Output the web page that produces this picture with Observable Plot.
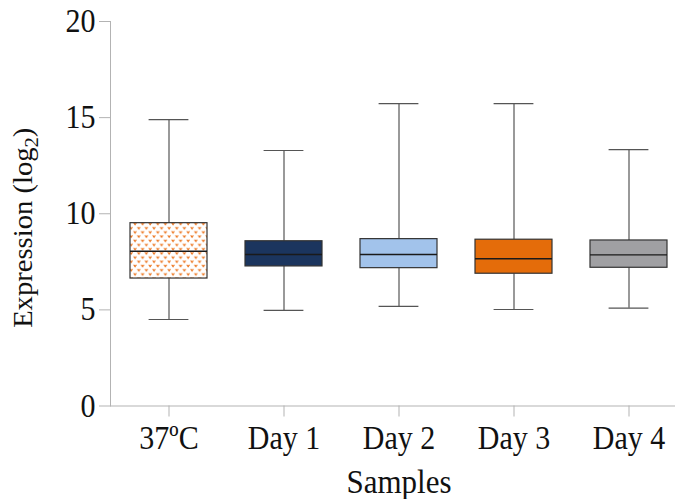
<!DOCTYPE html>
<html>
<head>
<meta charset="utf-8">
<script src="https://cdn.jsdelivr.net/npm/d3@7"></script>
<script src="https://cdn.jsdelivr.net/npm/@observablehq/plot@0.6"></script>
<style>
  html, body { margin: 0; padding: 0; background: #fff; }
</style>
</head>
<body>
<div id="chart"></div>
<script>
// Box-plot summaries of log2 expression per sample
const categories   = ["37ºC", "Day 1", "Day 2", "Day 3", "Day 4"];
const lowerWhisker = [4.50, 4.97, 5.18, 5.02, 5.09];
const quartile1    = [6.63, 7.26, 7.17, 6.88, 7.19];
const medians      = [8.05, 7.88, 7.88, 7.66, 7.86];
const quartile3    = [9.51, 8.57, 8.68, 8.65, 8.61];
const upperWhisker = [14.90, 13.29, 15.73, 15.73, 13.34];
const boxFills     = ["url(#divot)", "#1b355e", "#a2c3eb", "#e46c0a", "#a0a0a3"];
const yTicks       = [0, 5, 10, 15, 20];
const xTitle       = "Samples";
const yTitle       = "Expression (log2)";

const rows = categories.map((sample, i) => ({
  sample,
  lo: lowerWhisker[i],
  q1: quartile1[i],
  med: medians[i],
  q3: quartile3[i],
  hi: upperWhisker[i],
  fill: boxFills[i]
}));

// Orange "divot" pattern used for the 37ºC box
function divotDefs() {
  const defs = d3.create("svg:defs");
  const p = defs.append("pattern")
    .attr("id", "divot")
    .attr("patternUnits", "userSpaceOnUse")
    .attr("width", 7.6)
    .attr("height", 8.4);
  p.append("rect").attr("width", 7.6).attr("height", 8.4).attr("fill", "#fff");
  const chevron = "M0,0h1.5l0.4,0.9l0.4,-0.9h1.5l-1.9,2.9z";
  p.append("path").attr("d", chevron).attr("transform", "translate(0.1,0.2)").attr("fill", "#ec6f14");
  p.append("path").attr("d", chevron).attr("transform", "translate(3.9,4.4)").attr("fill", "#ec6f14");
  return defs.node();
}

const axisGrey = "#b3b3b3";
const whiskerGrey = "#555";

const chart = Plot.plot({
  width: 675,
  height: 499,
  marginLeft: 110,
  marginRight: 0,
  marginTop: 21,
  marginBottom: 93.5,
  style: {
    fontFamily: "'Liberation Serif', 'Times New Roman', serif",
    fontSize: "30px",
    color: "#111",
    background: "#fff"
  },
  x: { domain: categories, range: [110.4, 686.6], paddingInner: 0.33, paddingOuter: 0.165, label: null },
  y: { domain: [0, 20], label: null },
  color: { type: "identity" },
  marks: [
    divotDefs,
    Plot.frame({ anchor: "left", stroke: axisGrey }),
    Plot.ruleY([0], { stroke: axisGrey }),
    Plot.axisY({ ticks: yTicks, tickSize: 11, tickPadding: 4, stroke: axisGrey, fill: "#111", fontSize: 30, label: null, className: "htext" }),
    Plot.axisX({ tickSize: 11, tickPadding: 9, stroke: axisGrey, fill: "#111", fontSize: 30, label: null, className: "htext" }),
    Plot.ruleX(rows, { x: "sample", y1: "lo", y2: "q1", stroke: whiskerGrey, strokeWidth: 1.2 }),
    Plot.ruleX(rows, { x: "sample", y1: "q3", y2: "hi", stroke: whiskerGrey, strokeWidth: 1.2 }),
    Plot.tickY(rows, { x: "sample", y: "lo", insetLeft: 18.6, insetRight: 18.6, stroke: whiskerGrey, strokeWidth: 1.2 }),
    Plot.tickY(rows, { x: "sample", y: "hi", insetLeft: 18.6, insetRight: 18.6, stroke: whiskerGrey, strokeWidth: 1.2 }),
    Plot.barY(rows, { x: "sample", y1: "q1", y2: "q3", fill: "fill", stroke: "#333", strokeWidth: 1.2 }),
    Plot.tickY(rows, { x: "sample", y: "med", stroke: "#1a1a1a", strokeWidth: 1.3 }),
    Plot.text([xTitle], { x: [categories[2]], frameAnchor: "bottom", lineAnchor: "middle", dy: 75.6, fontSize: 31, fill: "#111", text: d => d, className: "htext" }),
    Plot.text([yTitle], { frameAnchor: "left", textAnchor: "middle", lineAnchor: "middle", rotate: -90, dx: -86.5, dy: 14, fontSize: 26.5, fill: "#111", text: d => d, className: "ylabel" })
  ]
});

// Slightly taller glyphs for the horizontal labels
d3.select(chart).selectAll(".htext text").attr("transform", function () {
  return (this.getAttribute("transform") || "") + " scale(1,1.1)";
});

// Y title: subscript "2" and the same vertical stretch along the reading direction
d3.select(chart).selectAll(".ylabel text").each(function () {
  const t = d3.select(this);
  t.attr("transform", (this.getAttribute("transform") || "") + " scale(1.08,1)");
  t.text(null);
  t.append("tspan").text("Expression (log");
  t.append("tspan").attr("font-size", "0.72em").attr("dy", "0.3em").text("2");
  t.append("tspan").attr("dy", "-0.22em").text(")");
});

document.getElementById("chart").appendChild(chart);
</script>
</body>
</html>
